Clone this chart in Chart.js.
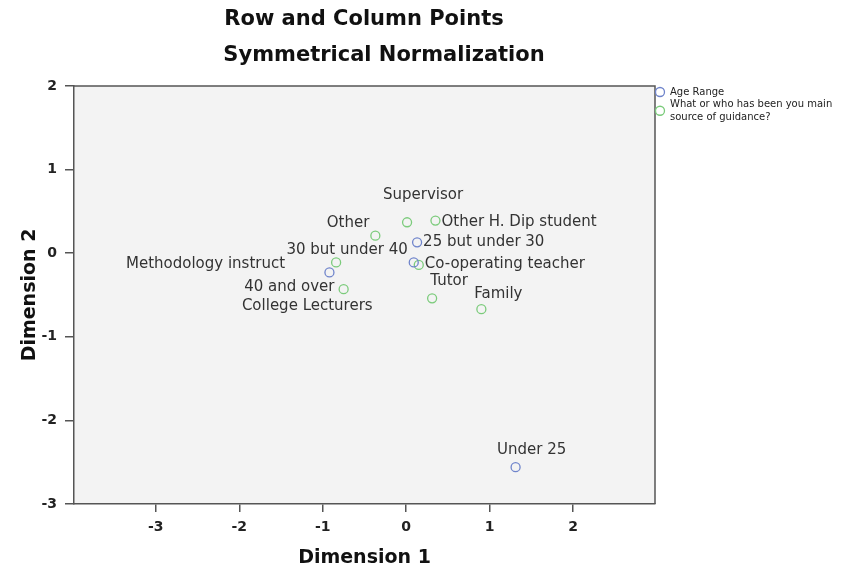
<!DOCTYPE html>
<html>
<head>
<meta charset="utf-8">
<script src="https://cdn.jsdelivr.net/npm/chart.js@4.4.1/dist/chart.umd.min.js"></script>
<style>
  html, body { margin: 0; padding: 0; background: #fff; }
  #wrap { width: 850px; height: 570px; }
</style>
</head>
<body>
<div id="wrap"><canvas id="corrChart" width="850" height="570"></canvas></div>
<script>
// Row points (Age Range) and column points (source of guidance), dimension scores
const ageLabels = ['Under 25', '25 but under 30', '30 but under 40', '40 and over'];
const ageDim1 = [1.31, 0.13, 0.09, -0.92];
const ageDim2 = [-2.56, 0.13, -0.11, -0.23];

const guidanceLabels = ['Supervisor', 'Other H. Dip student', 'Other', 'Methodology instruct',
  'Co-operating teacher', 'Tutor', 'Family', 'College Lecturers'];
const guidanceDim1 = [0.01, 0.35, -0.37, -0.84, 0.15, 0.31, 0.90, -0.75];
const guidanceDim2 = [0.37, 0.39, 0.21, -0.11, -0.14, -0.54, -0.67, -0.43];

const dim1Ticks = [-3, -2, -1, 0, 1, 2];
const dim2Ticks = [-3, -2, -1, 0, 1, 2];

// where each point label sits relative to its point: [dx, dy, align]
const agePlace = [[16, -17, 'center'], [6, 0, 'left'], [-6, -12, 'right'], [5, 15, 'right']];
const guidancePlace = [[16, -27, 'center'], [6, 2, 'left'], [-6, -13, 'right'], [-51, 2, 'right'],
  [6, -1, 'left'], [17, -17, 'center'], [17, -15, 'center'], [29, 17, 'right']];

const FONT = 'DejaVu Sans';
const BLUE = '#6f84cb';
const GREEN = '#7bcb7b';

function pts(xs, ys) {
  return xs.map((x, i) => ({ x: x, y: ys[i] }));
}

const plotBg = {
  id: 'plotBg',
  beforeDraw(chart) {
    const a = chart.chartArea, ctx = chart.ctx;
    ctx.save();
    ctx.fillStyle = '#f3f3f3';
    ctx.fillRect(a.left, a.top, a.right - a.left, a.bottom - a.top);
    ctx.restore();
  },
  afterDraw(chart) {
    // top and right edges of the frame
    const a = chart.chartArea, ctx = chart.ctx;
    ctx.save();
    ctx.strokeStyle = '#555';
    ctx.lineWidth = 1.5;
    ctx.beginPath();
    ctx.moveTo(a.left, a.top);
    ctx.lineTo(a.right, a.top);
    ctx.lineTo(a.right, a.bottom);
    ctx.stroke();
    ctx.restore();
  }
};

const pointLabels = {
  id: 'pointLabels',
  afterDatasetsDraw(chart) {
    const ctx = chart.ctx;
    ctx.save();
    ctx.font = '15px "' + FONT + '"';
    ctx.fillStyle = '#333';
    ctx.textBaseline = 'middle';
    chart.data.datasets.forEach((ds, di) => {
      const meta = chart.getDatasetMeta(di);
      meta.data.forEach((el, i) => {
        const p = ds.place[i];
        ctx.textAlign = p[2];
        ctx.fillText(ds.names[i], el.x + p[0], el.y + p[1]);
      });
    });
    ctx.restore();
  }
};

const headings = {
  id: 'headings',
  afterDraw(chart) {
    const ctx = chart.ctx;
    ctx.save();
    ctx.fillStyle = '#111';
    ctx.font = 'bold 21px "' + FONT + '"';
    ctx.textAlign = 'center';
    ctx.textBaseline = 'middle';
    ctx.fillText('Row and Column Points', 364, 20);
    ctx.fillText('Symmetrical Normalization', 384, 56);
    ctx.restore();
  }
};

const sideLegend = {
  id: 'sideLegend',
  afterDraw(chart) {
    const ctx = chart.ctx, a = chart.chartArea;
    const x = a.right + 5;
    const lh = 12.5;
    let y = a.top + 6;
    ctx.save();
    ctx.font = '10px "' + FONT + '"';
    ctx.textBaseline = 'middle';
    ctx.textAlign = 'left';
    chart.data.datasets.forEach(ds => {
      const lines = [];
      let cur = '';
      ds.label.split(' ').forEach(w => {
        const t = cur ? cur + ' ' + w : w;
        if (ctx.measureText(t).width > 168 && cur) { lines.push(cur); cur = w; } else { cur = t; }
      });
      lines.push(cur);
      const cy = y + (lines.length - 1) * lh / 2;
      ctx.strokeStyle = ds.borderColor;
      ctx.lineWidth = 1.3;
      ctx.beginPath();
      ctx.arc(x, cy, 4.5, 0, Math.PI * 2);
      ctx.stroke();
      ctx.fillStyle = '#222';
      lines.forEach((l, k) => ctx.fillText(l, x + 10, y + k * lh));
      y += lines.length * lh;
    });
    ctx.restore();
  }
};

new Chart(document.getElementById('corrChart'), {
  type: 'scatter',
  data: {
    datasets: [
      {
        label: 'Age Range',
        names: ageLabels,
        place: agePlace,
        data: pts(ageDim1, ageDim2),
        borderColor: BLUE,
        backgroundColor: 'rgba(0,0,0,0)',
        pointRadius: 4.5,
        pointBorderWidth: 1.3
      },
      {
        label: 'What or who has been you main source of guidance?',
        names: guidanceLabels,
        place: guidancePlace,
        data: pts(guidanceDim1, guidanceDim2),
        borderColor: GREEN,
        backgroundColor: 'rgba(0,0,0,0)',
        pointRadius: 4.5,
        pointBorderWidth: 1.3
      }
    ]
  },
  options: {
    responsive: false,
    animation: false,
    layout: { padding: { top: 86, right: 195, left: 0, bottom: 0 } },
    plugins: {
      legend: { display: false },
      tooltip: { enabled: false },
      title: { display: false }
    },
    scales: {
      x: {
        type: 'linear',
        min: -3.98,
        max: 2.98,
        afterBuildTicks: s => { s.ticks = dim1Ticks.map(v => ({ value: v })); },
        afterFit: s => { s.height = 66; },
        grid: { drawOnChartArea: false, drawTicks: true, tickLength: 8, color: '#555', lineWidth: 1.5 },
        border: { display: true, color: '#555', width: 1.5 },
        ticks: { color: '#222', maxRotation: 0, padding: 7, font: { family: FONT, size: 14, weight: 'bold' } },
        title: { display: true, text: 'Dimension 1', color: '#111', padding: { top: 0, bottom: 1 },
          font: { family: FONT, size: 19, weight: 'bold' } }
      },
      y: {
        type: 'linear',
        min: -3,
        max: 2,
        afterBuildTicks: s => { s.ticks = dim2Ticks.map(v => ({ value: v })); },
        afterFit: s => { s.width = 74; },
        grid: { drawOnChartArea: false, drawTicks: true, tickLength: 9, color: '#555', lineWidth: 1.5 },
        border: { display: true, color: '#555', width: 1.5 },
        ticks: { color: '#222', padding: 8, font: { family: FONT, size: 14, weight: 'bold' } },
        title: { display: true, text: 'Dimension 2', color: '#111', padding: { top: 19, bottom: 0 },
          font: { family: FONT, size: 19, weight: 'bold' } }
      }
    }
  },
  plugins: [plotBg, pointLabels, headings, sideLegend]
});
</script>
</body>
</html>
